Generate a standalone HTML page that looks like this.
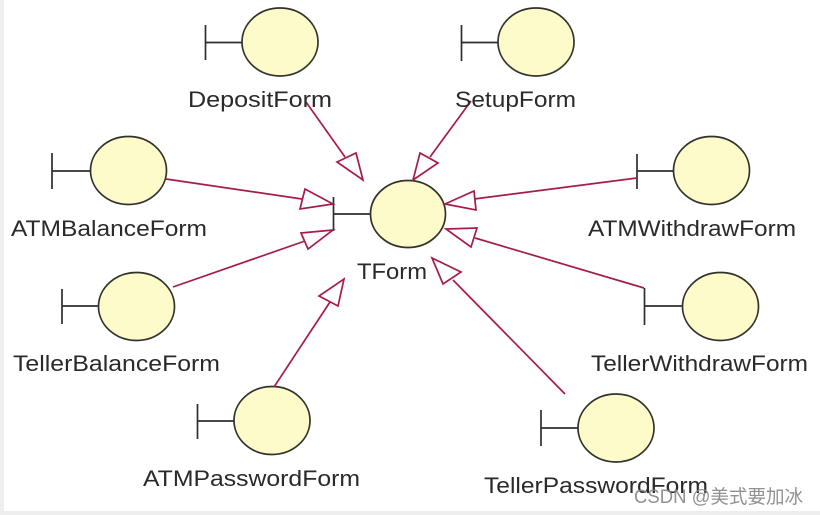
<!DOCTYPE html>
<html>
<head>
<meta charset="utf-8">
<style>
html,body{margin:0;padding:0;background:#fff;width:820px;height:515px;overflow:hidden}
svg{display:block}
text{font-family:"Liberation Sans","Noto Sans CJK SC",sans-serif;font-size:22px;fill:#2a2a2a}
.n ellipse{fill:#fdfbca;stroke:#33332e;stroke-width:1.7}
.n path{fill:none;stroke:#2e2e2e;stroke-width:1.7}
.a path{fill:none;stroke:#a51c49;stroke-width:1.7;stroke-linejoin:miter}
</style>
</head>
<body>
<svg width="820" height="515" viewBox="0 0 820 515" xmlns="http://www.w3.org/2000/svg">
<rect x="0" y="0" width="820" height="515" fill="#fff"/>
<rect x="0" y="0" width="4" height="515" fill="#eeeeee"/>
<rect x="0" y="511" width="820" height="4" fill="#eeeeee"/>
<g style="filter:blur(0.3px)">
<g class="n">
<path d="M205.500 25V60M205.500 42.500H242"/><ellipse cx="280" cy="42" rx="38" ry="34"/>
<path d="M461.500 25V61M461.500 42.500H498"/><ellipse cx="536" cy="42" rx="38" ry="34"/>
<path d="M52 153V189M52 171H91"/><ellipse cx="128.500" cy="170.500" rx="38" ry="34"/>
<path d="M637 154V189M637 171H674"/><ellipse cx="711.500" cy="170.500" rx="38" ry="34"/>
<path d="M333.500 197V231M333.500 214H371"/><ellipse cx="408" cy="214" rx="37.500" ry="33.500"/>
<path d="M62 289V324M62 306H99"/><ellipse cx="136.500" cy="306.500" rx="38" ry="34"/>
<path d="M644.500 288V325M644.500 306H683"/><ellipse cx="720.500" cy="306.500" rx="38" ry="34"/>
<path d="M197.500 404V439M197.500 421H234"/><ellipse cx="272" cy="420.500" rx="38" ry="34"/>
<path d="M541 410V446M541 428H578"/><ellipse cx="616" cy="428" rx="38" ry="34"/>
</g>
<g class="a">
<path d="M306 102L345 157"/><path d="M337 162L356 153L363 180Z"/>
<path d="M471 101L430 157"/><path d="M420 153L438 163L413 180Z"/>
<path d="M166 179L302 199"/><path d="M305 189L300 209L333 204Z"/>
<path d="M173 287L305 241"/><path d="M301 233L308 249L333 230Z"/>
<path d="M637 178L474 199"/><path d="M474 191L476 210L445 204Z"/>
<path d="M644 288L475 238"/><path d="M477 228L471 247L446 229Z"/>
<path d="M565 394L453 280"/><path d="M461 272L443 284L432 258Z"/>
<path d="M274 387L330 302"/><path d="M319 296L338 306L344 279Z"/>
</g>
<g>
<text x="188" y="107" textLength="144" lengthAdjust="spacingAndGlyphs">DepositForm</text>
<text x="455" y="107" textLength="121" lengthAdjust="spacingAndGlyphs">SetupForm</text>
<text x="11" y="236" textLength="196" lengthAdjust="spacingAndGlyphs">ATMBalanceForm</text>
<text x="357" y="279" textLength="70" lengthAdjust="spacingAndGlyphs">TForm</text>
<text x="588" y="236" textLength="208" lengthAdjust="spacingAndGlyphs">ATMWithdrawForm</text>
<text x="13" y="371" textLength="207" lengthAdjust="spacingAndGlyphs">TellerBalanceForm</text>
<text x="591" y="371" textLength="217" lengthAdjust="spacingAndGlyphs">TellerWithdrawForm</text>
<text x="143" y="486" textLength="217" lengthAdjust="spacingAndGlyphs">ATMPasswordForm</text>
<text x="484" y="493" textLength="224" lengthAdjust="spacingAndGlyphs">TellerPasswordForm</text>
</g>
</g>
<text x="634" y="503" textLength="169" lengthAdjust="spacingAndGlyphs" style="font-size:19px;fill:#858585;fill-opacity:.9">CSDN @美式要加冰</text>
</svg>
</body>
</html>
